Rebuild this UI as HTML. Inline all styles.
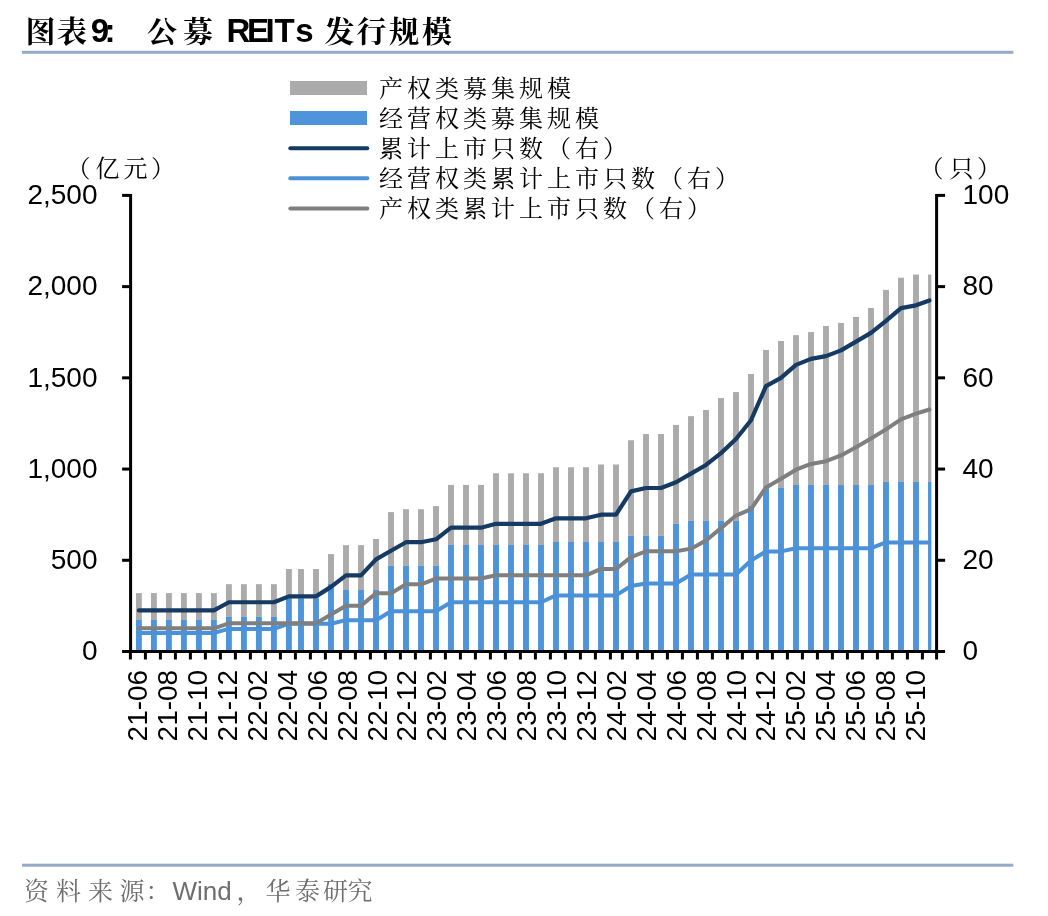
<!DOCTYPE html>
<html lang="zh-CN"><head><meta charset="utf-8"><title>公募 REITs 发行规模</title>
<style>html,body{margin:0;padding:0;background:#fff}svg{display:block;will-change:transform}.lat{font-family:"Liberation Sans", sans-serif}.cjk{font-family:"Liberation Serif", "Noto Serif CJK SC", serif}</style></head><body>
<svg width="1048" height="916" viewBox="0 0 1048 916">
<rect width="1048" height="916" fill="#fff"/>
<g font-weight="bold" fill="#000">
<text class="cjk" font-size="30" y="42" x="25.5 57">图表</text>
<text class="lat" font-size="33" y="41.9" x="90.8 104.6">9:</text>
<text class="cjk" font-size="30" y="42" x="147 183">公募</text>
<text class="lat" font-size="33" y="41.9" x="226.5 246.9 265.6 274.4 295.2">REITs</text>
<text class="cjk" font-size="30" y="42" x="324.5 356.5 389 422">发行规模</text>
</g>
<rect x="22" y="50.8" width="991.3" height="3" fill="#93AAC8"/>
<rect x="290" y="81" width="77" height="14" fill="#ABABAB"/>
<rect x="290" y="111" width="77" height="14" fill="#4E94DA"/>
<line x1="290.3" x2="367.3" y1="148.3" y2="148.3" stroke="#153A63" stroke-width="4" stroke-linecap="round"/>
<line x1="290.3" x2="367.3" y1="178.3" y2="178.3" stroke="#4A91D8" stroke-width="4" stroke-linecap="round"/>
<line x1="290.3" x2="367.3" y1="208.4" y2="208.4" stroke="#7F7F7F" stroke-width="4" stroke-linecap="round"/>
<text class="cjk" font-size="24" y="96.7" x="379 407 435 463 491 519 547" fill="#000">产权类募集规模</text>
<text class="cjk" font-size="24" y="126.75" x="379 407 435 463 491 519 547 575" fill="#000">经营权类募集规模</text>
<text class="cjk" font-size="24" y="156.8" x="379 407 435 463 491 519 547 575 603" fill="#000">累计上市只数（右）</text>
<text class="cjk" font-size="24" y="186.85" x="379 407 435 463 491 519 547 575 603 631 659 687 715" fill="#000">经营权类累计上市只数（右）</text>
<text class="cjk" font-size="24" y="216.9" x="379 407 435 463 491 519 547 575 603 631 659 687" fill="#000">产权类累计上市只数（右）</text>
<text class="cjk" font-size="24" y="176.5" x="66.5 95.5 123.5 151" fill="#000">（亿元）</text>
<text class="cjk" font-size="24" y="176.5" x="919.5 949.5 977" fill="#000">（只）</text>
<g shape-rendering="auto">
<rect x="135.95" y="593.12" width="5.90" height="26.82" fill="#ABABAB"/>
<rect x="135.95" y="619.94" width="5.90" height="31.56" fill="#4E94DA"/>
<rect x="150.95" y="593.12" width="5.90" height="26.82" fill="#ABABAB"/>
<rect x="150.95" y="619.94" width="5.90" height="31.56" fill="#4E94DA"/>
<rect x="165.95" y="593.12" width="5.90" height="26.82" fill="#ABABAB"/>
<rect x="165.95" y="619.94" width="5.90" height="31.56" fill="#4E94DA"/>
<rect x="180.95" y="593.12" width="5.90" height="26.82" fill="#ABABAB"/>
<rect x="180.95" y="619.94" width="5.90" height="31.56" fill="#4E94DA"/>
<rect x="195.95" y="593.12" width="5.90" height="26.82" fill="#ABABAB"/>
<rect x="195.95" y="619.94" width="5.90" height="31.56" fill="#4E94DA"/>
<rect x="210.95" y="593.12" width="5.90" height="26.82" fill="#ABABAB"/>
<rect x="210.95" y="619.94" width="5.90" height="31.56" fill="#4E94DA"/>
<rect x="225.95" y="584.18" width="5.90" height="32.75" fill="#ABABAB"/>
<rect x="225.95" y="616.93" width="5.90" height="34.57" fill="#4E94DA"/>
<rect x="240.95" y="584.18" width="5.90" height="32.75" fill="#ABABAB"/>
<rect x="240.95" y="616.93" width="5.90" height="34.57" fill="#4E94DA"/>
<rect x="255.95" y="584.18" width="5.90" height="32.75" fill="#ABABAB"/>
<rect x="255.95" y="616.93" width="5.90" height="34.57" fill="#4E94DA"/>
<rect x="270.95" y="584.18" width="5.90" height="32.75" fill="#ABABAB"/>
<rect x="270.95" y="616.93" width="5.90" height="34.57" fill="#4E94DA"/>
<rect x="285.95" y="569.04" width="5.90" height="29.19" fill="#ABABAB"/>
<rect x="285.95" y="598.23" width="5.90" height="53.27" fill="#4E94DA"/>
<rect x="298.05" y="569.04" width="5.90" height="29.19" fill="#ABABAB"/>
<rect x="298.05" y="598.23" width="5.90" height="53.27" fill="#4E94DA"/>
<rect x="313.05" y="569.04" width="5.90" height="29.19" fill="#ABABAB"/>
<rect x="313.05" y="598.23" width="5.90" height="53.27" fill="#4E94DA"/>
<rect x="328.05" y="554.08" width="5.90" height="29.83" fill="#ABABAB"/>
<rect x="328.05" y="583.91" width="5.90" height="67.59" fill="#4E94DA"/>
<rect x="343.05" y="545.14" width="5.90" height="44.88" fill="#ABABAB"/>
<rect x="343.05" y="590.02" width="5.90" height="61.48" fill="#4E94DA"/>
<rect x="358.05" y="545.14" width="5.90" height="44.88" fill="#ABABAB"/>
<rect x="358.05" y="590.02" width="5.90" height="61.48" fill="#4E94DA"/>
<rect x="373.05" y="538.93" width="5.90" height="51.08" fill="#ABABAB"/>
<rect x="373.05" y="590.02" width="5.90" height="61.48" fill="#4E94DA"/>
<rect x="388.05" y="512.12" width="5.90" height="53.73" fill="#ABABAB"/>
<rect x="388.05" y="565.84" width="5.90" height="85.66" fill="#4E94DA"/>
<rect x="403.05" y="509.20" width="5.90" height="56.65" fill="#ABABAB"/>
<rect x="403.05" y="565.84" width="5.90" height="85.66" fill="#4E94DA"/>
<rect x="418.05" y="509.20" width="5.90" height="56.65" fill="#ABABAB"/>
<rect x="418.05" y="565.84" width="5.90" height="85.66" fill="#4E94DA"/>
<rect x="433.05" y="506.10" width="5.90" height="59.75" fill="#ABABAB"/>
<rect x="433.05" y="565.84" width="5.90" height="85.66" fill="#4E94DA"/>
<rect x="448.05" y="484.93" width="5.90" height="60.08" fill="#ABABAB"/>
<rect x="448.05" y="545.01" width="5.90" height="106.49" fill="#4E94DA"/>
<rect x="463.05" y="484.93" width="5.90" height="60.08" fill="#ABABAB"/>
<rect x="463.05" y="545.01" width="5.90" height="106.49" fill="#4E94DA"/>
<rect x="478.05" y="484.93" width="5.90" height="60.08" fill="#ABABAB"/>
<rect x="478.05" y="545.01" width="5.90" height="106.49" fill="#4E94DA"/>
<rect x="493.05" y="473.26" width="5.90" height="71.75" fill="#ABABAB"/>
<rect x="493.05" y="545.01" width="5.90" height="106.49" fill="#4E94DA"/>
<rect x="508.05" y="473.26" width="5.90" height="71.75" fill="#ABABAB"/>
<rect x="508.05" y="545.01" width="5.90" height="106.49" fill="#4E94DA"/>
<rect x="523.05" y="473.26" width="5.90" height="71.75" fill="#ABABAB"/>
<rect x="523.05" y="545.01" width="5.90" height="106.49" fill="#4E94DA"/>
<rect x="538.05" y="473.26" width="5.90" height="71.75" fill="#ABABAB"/>
<rect x="538.05" y="545.01" width="5.90" height="106.49" fill="#4E94DA"/>
<rect x="553.05" y="467.24" width="5.90" height="74.75" fill="#ABABAB"/>
<rect x="553.05" y="541.98" width="5.90" height="109.52" fill="#4E94DA"/>
<rect x="568.05" y="467.24" width="5.90" height="74.75" fill="#ABABAB"/>
<rect x="568.05" y="541.98" width="5.90" height="109.52" fill="#4E94DA"/>
<rect x="583.05" y="467.24" width="5.90" height="74.75" fill="#ABABAB"/>
<rect x="583.05" y="541.98" width="5.90" height="109.52" fill="#4E94DA"/>
<rect x="598.05" y="464.50" width="5.90" height="77.48" fill="#ABABAB"/>
<rect x="598.05" y="541.98" width="5.90" height="109.52" fill="#4E94DA"/>
<rect x="613.05" y="464.50" width="5.90" height="77.48" fill="#ABABAB"/>
<rect x="613.05" y="541.98" width="5.90" height="109.52" fill="#4E94DA"/>
<rect x="628.05" y="440.23" width="5.90" height="95.60" fill="#ABABAB"/>
<rect x="628.05" y="535.83" width="5.90" height="115.67" fill="#4E94DA"/>
<rect x="643.05" y="434.03" width="5.90" height="101.80" fill="#ABABAB"/>
<rect x="643.05" y="535.83" width="5.90" height="115.67" fill="#4E94DA"/>
<rect x="658.05" y="434.03" width="5.90" height="101.80" fill="#ABABAB"/>
<rect x="658.05" y="535.83" width="5.90" height="115.67" fill="#4E94DA"/>
<rect x="673.05" y="424.91" width="5.90" height="98.88" fill="#ABABAB"/>
<rect x="673.05" y="523.79" width="5.90" height="127.71" fill="#4E94DA"/>
<rect x="688.05" y="416.15" width="5.90" height="104.72" fill="#ABABAB"/>
<rect x="688.05" y="520.87" width="5.90" height="130.63" fill="#4E94DA"/>
<rect x="703.05" y="409.95" width="5.90" height="110.92" fill="#ABABAB"/>
<rect x="703.05" y="520.87" width="5.90" height="130.63" fill="#4E94DA"/>
<rect x="718.05" y="398.09" width="5.90" height="122.78" fill="#ABABAB"/>
<rect x="718.05" y="520.87" width="5.90" height="130.63" fill="#4E94DA"/>
<rect x="733.05" y="392.07" width="5.90" height="128.80" fill="#ABABAB"/>
<rect x="733.05" y="520.87" width="5.90" height="130.63" fill="#4E94DA"/>
<rect x="748.05" y="374.01" width="5.90" height="131.90" fill="#ABABAB"/>
<rect x="748.05" y="505.91" width="5.90" height="145.59" fill="#4E94DA"/>
<rect x="763.05" y="349.93" width="5.90" height="138.02" fill="#ABABAB"/>
<rect x="763.05" y="487.94" width="5.90" height="163.56" fill="#4E94DA"/>
<rect x="778.05" y="340.99" width="5.90" height="146.96" fill="#ABABAB"/>
<rect x="778.05" y="487.94" width="5.90" height="163.56" fill="#4E94DA"/>
<rect x="793.05" y="335.15" width="5.90" height="149.78" fill="#ABABAB"/>
<rect x="793.05" y="484.93" width="5.90" height="166.57" fill="#4E94DA"/>
<rect x="808.05" y="332.05" width="5.90" height="152.88" fill="#ABABAB"/>
<rect x="808.05" y="484.93" width="5.90" height="166.57" fill="#4E94DA"/>
<rect x="823.05" y="326.03" width="5.90" height="158.91" fill="#ABABAB"/>
<rect x="823.05" y="484.93" width="5.90" height="166.57" fill="#4E94DA"/>
<rect x="838.05" y="322.93" width="5.90" height="162.01" fill="#ABABAB"/>
<rect x="838.05" y="484.93" width="5.90" height="166.57" fill="#4E94DA"/>
<rect x="853.05" y="316.91" width="5.90" height="168.03" fill="#ABABAB"/>
<rect x="853.05" y="484.93" width="5.90" height="166.57" fill="#4E94DA"/>
<rect x="868.05" y="307.97" width="5.90" height="176.97" fill="#ABABAB"/>
<rect x="868.05" y="484.93" width="5.90" height="166.57" fill="#4E94DA"/>
<rect x="883.05" y="289.90" width="5.90" height="192.02" fill="#ABABAB"/>
<rect x="883.05" y="481.92" width="5.90" height="169.58" fill="#4E94DA"/>
<rect x="898.05" y="277.68" width="5.90" height="204.24" fill="#ABABAB"/>
<rect x="898.05" y="481.92" width="5.90" height="169.58" fill="#4E94DA"/>
<rect x="913.05" y="274.58" width="5.90" height="207.34" fill="#ABABAB"/>
<rect x="913.05" y="481.92" width="5.90" height="169.58" fill="#4E94DA"/>
<rect x="928.05" y="274.58" width="3.30" height="207.34" fill="#ABABAB"/>
<rect x="928.05" y="481.92" width="3.30" height="169.58" fill="#4E94DA"/>
</g>
<polyline points="138.90,610.45 153.90,610.45 168.90,610.45 183.90,610.45 198.90,610.45 213.90,610.45 228.90,602.24 243.90,602.24 258.90,602.24 273.90,602.24 288.90,596.36 301.00,596.36 316.00,596.36 331.00,586.87 346.00,575.42 361.00,575.42 376.00,559.37 391.00,550.70 406.00,542.22 421.00,542.22 436.00,539.30 451.00,527.67 466.00,527.67 481.00,527.67 496.00,523.79 511.00,523.79 526.00,523.79 541.00,523.79 556.00,518.32 571.00,518.32 586.00,518.32 601.00,514.67 616.00,514.67 631.00,491.41 646.00,487.99 661.00,487.99 676.00,482.29 691.00,473.62 706.00,464.96 721.00,453.10 736.00,438.96 751.00,420.26 766.00,386.05 781.00,377.84 796.00,364.84 811.00,358.87 826.00,356.13 841.00,350.34 856.00,341.63 871.00,332.91 886.00,320.83 901.00,308.06 916.00,305.32 929.40,300.49" fill="none" stroke="#153A63" stroke-width="4.2" stroke-linejoin="round" stroke-linecap="round"/>
<polyline points="138.90,632.89 153.90,632.89 168.90,632.89 183.90,632.89 198.90,632.89 213.90,632.89 228.90,628.92 243.90,628.92 258.90,628.92 273.90,628.92 288.90,623.68 301.00,623.68 316.00,623.68 331.00,623.68 346.00,620.17 361.00,620.17 376.00,620.17 391.00,611.27 406.00,611.27 421.00,611.27 436.00,611.27 451.00,602.24 466.00,602.24 481.00,602.24 496.00,602.24 511.00,602.24 526.00,602.24 541.00,602.24 556.00,595.40 571.00,595.40 586.00,595.40 601.00,595.40 616.00,595.40 631.00,586.05 646.00,583.54 661.00,583.54 676.00,583.54 691.00,574.42 706.00,574.42 721.00,574.42 736.00,574.42 751.00,560.51 766.00,551.39 781.00,551.39 796.00,548.19 811.00,548.19 826.00,548.19 841.00,548.19 856.00,548.19 871.00,548.19 886.00,542.49 901.00,542.49 916.00,542.49 929.40,542.49" fill="none" stroke="#4A91D8" stroke-width="4" stroke-linejoin="round" stroke-linecap="round"/>
<polyline points="138.90,628.33 153.90,628.33 168.90,628.33 183.90,628.33 198.90,628.33 213.90,628.33 228.90,623.36 243.90,623.36 258.90,623.36 273.90,623.36 288.90,623.36 301.00,623.36 316.00,623.36 331.00,614.46 346.00,605.66 361.00,605.66 376.00,593.26 391.00,593.26 406.00,584.27 421.00,584.27 436.00,578.52 451.00,578.52 466.00,578.52 481.00,578.52 496.00,575.33 511.00,575.33 526.00,575.33 541.00,575.33 556.00,575.33 571.00,575.33 586.00,575.33 601.00,568.95 616.00,568.95 631.00,557.09 646.00,551.25 661.00,551.25 676.00,551.25 691.00,548.65 706.00,540.44 721.00,528.12 736.00,515.58 751.00,509.20 766.00,487.44 781.00,478.77 796.00,469.70 811.00,463.91 826.00,461.17 841.00,455.38 856.00,447.17 871.00,438.50 886.00,429.38 901.00,419.35 916.00,413.64 929.40,409.49" fill="none" stroke="#7F7F7F" stroke-width="4" stroke-linejoin="round" stroke-linecap="round"/>
<g stroke="#000" stroke-width="3" fill="none" stroke-linecap="butt">
<line x1="130.6" x2="130.6" y1="193.9" y2="653"/>
<line x1="936.6" x2="936.6" y1="193.9" y2="653"/>
<line x1="122.1" x2="945.1" y1="651.5" y2="651.5"/>
<line x1="122.1" x2="130.6" y1="560.28" y2="560.28"/>
<line x1="936.6" x2="945.1" y1="560.28" y2="560.28"/>
<line x1="122.1" x2="130.6" y1="469.06" y2="469.06"/>
<line x1="936.6" x2="945.1" y1="469.06" y2="469.06"/>
<line x1="122.1" x2="130.6" y1="377.84" y2="377.84"/>
<line x1="936.6" x2="945.1" y1="377.84" y2="377.84"/>
<line x1="122.1" x2="130.6" y1="286.62" y2="286.62"/>
<line x1="936.6" x2="945.1" y1="286.62" y2="286.62"/>
<line x1="122.1" x2="130.6" y1="195.40" y2="195.40"/>
<line x1="936.6" x2="945.1" y1="195.40" y2="195.40"/>
<line x1="130.40" x2="130.40" y1="651.5" y2="659.5"/>
<line x1="145.40" x2="145.40" y1="651.5" y2="659.5"/>
<line x1="160.40" x2="160.40" y1="651.5" y2="659.5"/>
<line x1="175.40" x2="175.40" y1="651.5" y2="659.5"/>
<line x1="190.40" x2="190.40" y1="651.5" y2="659.5"/>
<line x1="205.40" x2="205.40" y1="651.5" y2="659.5"/>
<line x1="220.40" x2="220.40" y1="651.5" y2="659.5"/>
<line x1="235.40" x2="235.40" y1="651.5" y2="659.5"/>
<line x1="250.40" x2="250.40" y1="651.5" y2="659.5"/>
<line x1="265.40" x2="265.40" y1="651.5" y2="659.5"/>
<line x1="280.40" x2="280.40" y1="651.5" y2="659.5"/>
<line x1="295.40" x2="295.40" y1="651.5" y2="659.5"/>
<line x1="310.40" x2="310.40" y1="651.5" y2="659.5"/>
<line x1="325.40" x2="325.40" y1="651.5" y2="659.5"/>
<line x1="340.40" x2="340.40" y1="651.5" y2="659.5"/>
<line x1="355.40" x2="355.40" y1="651.5" y2="659.5"/>
<line x1="370.40" x2="370.40" y1="651.5" y2="659.5"/>
<line x1="385.40" x2="385.40" y1="651.5" y2="659.5"/>
<line x1="400.40" x2="400.40" y1="651.5" y2="659.5"/>
<line x1="415.40" x2="415.40" y1="651.5" y2="659.5"/>
<line x1="430.40" x2="430.40" y1="651.5" y2="659.5"/>
<line x1="445.40" x2="445.40" y1="651.5" y2="659.5"/>
<line x1="460.40" x2="460.40" y1="651.5" y2="659.5"/>
<line x1="475.40" x2="475.40" y1="651.5" y2="659.5"/>
<line x1="490.40" x2="490.40" y1="651.5" y2="659.5"/>
<line x1="505.40" x2="505.40" y1="651.5" y2="659.5"/>
<line x1="520.40" x2="520.40" y1="651.5" y2="659.5"/>
<line x1="535.40" x2="535.40" y1="651.5" y2="659.5"/>
<line x1="550.40" x2="550.40" y1="651.5" y2="659.5"/>
<line x1="565.40" x2="565.40" y1="651.5" y2="659.5"/>
<line x1="580.40" x2="580.40" y1="651.5" y2="659.5"/>
<line x1="595.40" x2="595.40" y1="651.5" y2="659.5"/>
<line x1="610.40" x2="610.40" y1="651.5" y2="659.5"/>
<line x1="622.40" x2="622.40" y1="651.5" y2="659.5"/>
<line x1="637.40" x2="637.40" y1="651.5" y2="659.5"/>
<line x1="652.40" x2="652.40" y1="651.5" y2="659.5"/>
<line x1="667.40" x2="667.40" y1="651.5" y2="659.5"/>
<line x1="682.40" x2="682.40" y1="651.5" y2="659.5"/>
<line x1="697.40" x2="697.40" y1="651.5" y2="659.5"/>
<line x1="712.40" x2="712.40" y1="651.5" y2="659.5"/>
<line x1="727.40" x2="727.40" y1="651.5" y2="659.5"/>
<line x1="742.40" x2="742.40" y1="651.5" y2="659.5"/>
<line x1="757.40" x2="757.40" y1="651.5" y2="659.5"/>
<line x1="772.40" x2="772.40" y1="651.5" y2="659.5"/>
<line x1="787.40" x2="787.40" y1="651.5" y2="659.5"/>
<line x1="802.40" x2="802.40" y1="651.5" y2="659.5"/>
<line x1="817.40" x2="817.40" y1="651.5" y2="659.5"/>
<line x1="832.40" x2="832.40" y1="651.5" y2="659.5"/>
<line x1="847.40" x2="847.40" y1="651.5" y2="659.5"/>
<line x1="862.40" x2="862.40" y1="651.5" y2="659.5"/>
<line x1="877.40" x2="877.40" y1="651.5" y2="659.5"/>
<line x1="892.40" x2="892.40" y1="651.5" y2="659.5"/>
<line x1="907.40" x2="907.40" y1="651.5" y2="659.5"/>
<line x1="922.40" x2="922.40" y1="651.5" y2="659.5"/>
<line x1="936.60" x2="936.60" y1="651.5" y2="659.5"/>
</g>
<g class="lat" font-size="28" fill="#000">
<text x="97.5" y="660.20" text-anchor="end">0</text>
<text x="97.5" y="568.98" text-anchor="end">500</text>
<text x="97.5" y="477.76" text-anchor="end">1,000</text>
<text x="97.5" y="386.54" text-anchor="end">1,500</text>
<text x="97.5" y="295.32" text-anchor="end">2,000</text>
<text x="97.5" y="204.10" text-anchor="end">2,500</text>
<text x="962.5" y="660.20">0</text>
<text x="962.5" y="568.98">20</text>
<text x="962.5" y="477.76">40</text>
<text x="962.5" y="386.54">60</text>
<text x="962.5" y="295.32">80</text>
<text x="962.5" y="204.10">100</text>
<text transform="translate(147.15,669.8) rotate(-90)" text-anchor="end">21-06</text>
<text transform="translate(177.07,669.8) rotate(-90)" text-anchor="end">21-08</text>
<text transform="translate(206.99,669.8) rotate(-90)" text-anchor="end">21-10</text>
<text transform="translate(236.91,669.8) rotate(-90)" text-anchor="end">21-12</text>
<text transform="translate(266.83,669.8) rotate(-90)" text-anchor="end">22-02</text>
<text transform="translate(296.75,669.8) rotate(-90)" text-anchor="end">22-04</text>
<text transform="translate(326.67,669.8) rotate(-90)" text-anchor="end">22-06</text>
<text transform="translate(356.59,669.8) rotate(-90)" text-anchor="end">22-08</text>
<text transform="translate(386.51,669.8) rotate(-90)" text-anchor="end">22-10</text>
<text transform="translate(416.43,669.8) rotate(-90)" text-anchor="end">22-12</text>
<text transform="translate(446.35,669.8) rotate(-90)" text-anchor="end">23-02</text>
<text transform="translate(476.27,669.8) rotate(-90)" text-anchor="end">23-04</text>
<text transform="translate(506.19,669.8) rotate(-90)" text-anchor="end">23-06</text>
<text transform="translate(536.11,669.8) rotate(-90)" text-anchor="end">23-08</text>
<text transform="translate(566.03,669.8) rotate(-90)" text-anchor="end">23-10</text>
<text transform="translate(595.95,669.8) rotate(-90)" text-anchor="end">23-12</text>
<text transform="translate(625.87,669.8) rotate(-90)" text-anchor="end">24-02</text>
<text transform="translate(655.79,669.8) rotate(-90)" text-anchor="end">24-04</text>
<text transform="translate(685.71,669.8) rotate(-90)" text-anchor="end">24-06</text>
<text transform="translate(715.63,669.8) rotate(-90)" text-anchor="end">24-08</text>
<text transform="translate(745.55,669.8) rotate(-90)" text-anchor="end">24-10</text>
<text transform="translate(775.47,669.8) rotate(-90)" text-anchor="end">24-12</text>
<text transform="translate(805.39,669.8) rotate(-90)" text-anchor="end">25-02</text>
<text transform="translate(835.31,669.8) rotate(-90)" text-anchor="end">25-04</text>
<text transform="translate(865.23,669.8) rotate(-90)" text-anchor="end">25-06</text>
<text transform="translate(895.15,669.8) rotate(-90)" text-anchor="end">25-08</text>
<text transform="translate(925.07,669.8) rotate(-90)" text-anchor="end">25-10</text>
</g>
<rect x="22" y="863.7" width="991.3" height="3" fill="#93AAC8"/>
<g fill="#6E6E6E">
<text class="cjk" font-size="25" y="900" x="24 56 88 119.5 145.5">资料来源：</text>
<text class="lat" font-size="26" y="899.5" x="172.5">Wind</text>
<text class="cjk" font-size="25" y="900" x="236.5 265.5 295 323 347.5">，华泰研究</text>
</g>
</svg></body></html>
